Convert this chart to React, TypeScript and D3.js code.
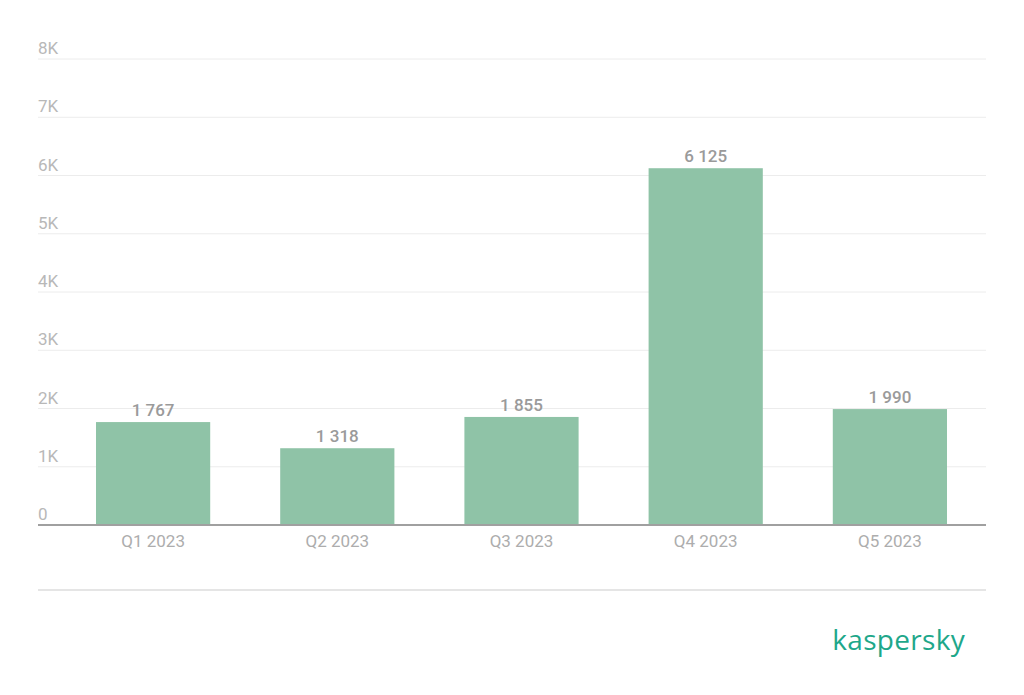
import React from "react";
import * as d3 from "d3";

const categories = ["Q1 2023", "Q2 2023", "Q3 2023", "Q4 2023", "Q5 2023"];
const values = [1767, 1318, 1855, 6125, 1990];
const yTicks = [0, 1000, 2000, 3000, 4000, 5000, 6000, 7000, 8000];

const W = 1024;
const H = 695;

export default function App() {
  const x = d3
    .scaleBand<string>()
    .domain(categories)
    .range([61, 982])
    .paddingInner(0.38)
    .paddingOuter(0.19);
  const y = d3.scaleLinear().domain([0, 8000]).range([525, 59]);
  const fmt = (v: number) => d3.format(",")(v).replace(/,/g, " ");
  const tickFmt = (v: number) => (v === 0 ? "0" : `${v / 1000}K`);
  const font = "Roboto, 'Noto Sans', sans-serif";

  return (
    <svg
      width={W}
      height={H}
      style={{ position: "absolute", left: 0, top: 0, background: "#fff" }}
      fontFamily={font}
    >
      {yTicks.map((t) => (
        <g key={t}>
          {t !== 0 && (
            <line x1={38} x2={986} y1={y(t)} y2={y(t)} stroke="#ececec" strokeWidth={1} />
          )}
          <text x={38} y={y(t) - 5} fontSize={17} fill="#b8b8b8">
            {tickFmt(t)}
          </text>
        </g>
      ))}
      {categories.map((c, i) => (
        <g key={c}>
          <rect
            x={x(c)}
            y={y(values[i])}
            width={x.bandwidth()}
            height={y(0) - y(values[i])}
            fill="#8fc3a7"
          />
          <text
            x={(x(c) as number) + x.bandwidth() / 2}
            y={y(values[i]) - 6}
            textAnchor="middle"
            fontSize={17}
            fontWeight={500}
            fill="#9a9a9a"
          >
            {fmt(values[i])}
          </text>
          <text
            x={(x(c) as number) + x.bandwidth() / 2}
            y={547}
            textAnchor="middle"
            fontSize={17}
            fill="#adadad"
          >
            {c}
          </text>
        </g>
      ))}
      <line x1={38} x2={986} y1={525} y2={525} stroke="#a0a0a0" strokeWidth={2} />
      <line x1={38} x2={986} y1={590} y2={590} stroke="#dcdcdc" strokeWidth={1.5} />
      <text
        x={965}
        y={650}
        textAnchor="end"
        fontSize={28}
        fontWeight={500}
        fill="#1ea78a"
        fontFamily="'Open Sans', Lato, sans-serif"
        letterSpacing={0.3}
      >
        kaspersky
      </text>
    </svg>
  );
}
